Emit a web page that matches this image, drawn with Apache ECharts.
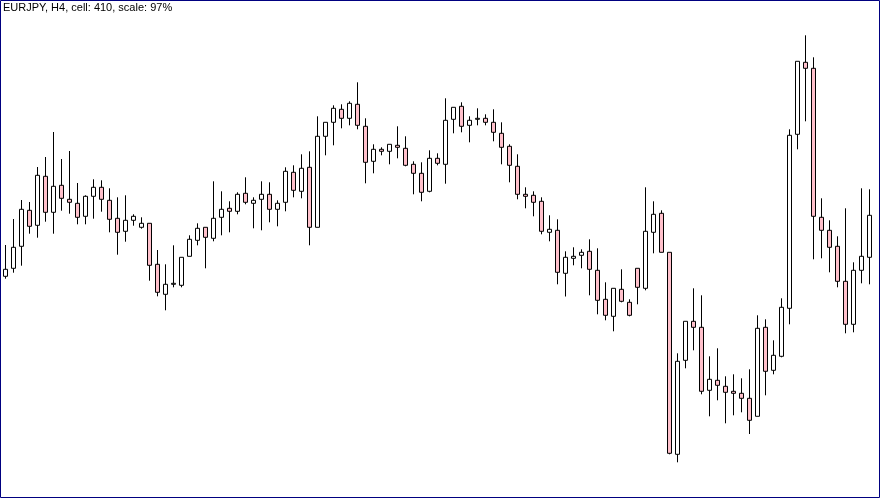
<!DOCTYPE html>
<html>
<head>
<meta charset="utf-8">
<script src="https://cdn.jsdelivr.net/npm/echarts@6/dist/echarts.min.js"></script>
<style>
html,body{margin:0;padding:0;background:#fff;}
#chart{width:880px;height:498px;}
</style>
</head>
<body>
<div id="chart"></div>
<script>
// Chart title
var chartTitle = 'EURJPY, H4, cell: 410, scale: 97%';

// Price values (chart units), one per H4 bar
var opens = [
221.7,229.7,251.7,287.7,272.7,321.7,285.7,312.7,298.7,294.7,
281.7,301.7,310.7,297.7,279.7,266.7,277.7,270.7,274.7,233.7,
203.7,213.7,212.7,241.7,257.7,270.7,259.7,280.7,289.7,286.7,
304.7,294.7,298.7,303.7,288.7,295.7,325.7,306.7,330.7,270.7,
361.7,375.7,388.7,379.7,393.7,371.7,336.7,348.7,346.7,352.7,
349.7,333.7,324.7,306.7,339.7,333.7,378.7,391.7,372.7,378.7,
379.7,375.7,364.7,351.7,331.7,303.7,302.7,296.7,265.7,267.7,
224.7,239.7,242.7,246.7,227.7,198.7,181.7,208.7,195.7,229.7,
209.7,265.7,284.7,245.7,43.7,137.7,176.7,170.7,107.7,117.7,
111.7,106.7,104.7,99.7,81.7,170.7,127.7,141.7,189.7,363.7,
435.7,429.7,280.7,267.7,251.7,216.7,173.7,227.7,240.7
];
var closes = [
228.7,250.7,288.7,271.7,322.7,285.7,311.7,299.7,295.7,280.7,
301.7,310.7,298.7,278.7,265.7,277.7,281.7,274.7,232.7,205.7,
213.7,214.7,240.7,258.7,269.7,260.7,279.7,288.7,286.7,303.7,
295.7,297.7,303.7,288.7,294.7,326.7,307.7,329.7,270.7,361.7,
375.7,389.7,379.7,394.7,372.7,335.7,348.7,346.7,353.7,350.7,
332.7,324.7,305.7,339.7,334.7,377.7,390.7,371.7,377.7,379.7,
375.7,365.7,350.7,332.7,303.7,301.7,295.7,266.7,268.7,225.7,
240.7,241.7,245.7,228.7,197.7,182.7,209.7,196.7,182.7,210.7,
266.7,283.7,245.7,44.7,136.7,176.7,170.7,106.7,118.7,112.7,
105.7,104.7,99.7,77.7,169.7,126.7,142.7,190.7,362.7,436.7,
429.7,281.7,267.7,250.7,216.7,173.7,227.7,241.7,282.7
];
var lows = [
219.3,225.3,232.3,264.3,260.3,276.3,264.3,287.3,284.3,273.7,
273.7,279.3,286.3,265.7,243.3,256.3,272.3,269.3,217.3,201.7,
187.7,210.7,210.7,241.7,252.7,229.7,256.7,262.7,265.7,283.7,
293.7,269.7,267.7,275.7,271.7,286.7,300.7,299.7,252.7,270.7,
342.7,352.7,369.7,372.7,368.7,314.7,324.7,342.7,333.7,339.7,
331.7,303.7,296.7,305.7,332.7,314.3,364.7,365.7,355.7,372.7,
372.7,356.7,333.7,315.7,298.7,289.7,281.7,263.7,256.7,213.7,
201.5,232.7,229.7,202.7,183.7,177.7,166.7,195.7,181.7,193.7,
207.7,244.7,245.7,43.7,35.7,129.7,147.7,103.7,81.7,97.7,
74.7,82.7,85.7,64.0,81.7,102.7,123.7,140.7,173.7,348.7,
376.7,238.7,239.7,225.7,210.7,164.7,165.7,214.7,213.7
];
var highs = [
253.0,279.0,298.0,296.0,331.0,341.0,366.0,339.0,347.0,315.0,
302.7,318.7,317.7,309.7,300.7,302.7,283.7,280.7,274.7,248.0,
233.7,252.7,240.7,262.7,274.7,270.7,316.7,306.7,296.7,305.7,
320.7,300.7,316.7,315.7,297.7,330.7,332.7,343.7,346.7,381.7,
375.7,392.7,393.7,396.7,415.7,379.7,353.7,350.7,353.7,371.7,
361.7,336.7,335.7,347.7,344.7,399.7,390.7,395.7,381.7,389.7,
383.7,388.7,375.7,353.7,343.7,310.7,306.7,300.7,282.7,278.7,
246.7,250.7,248.7,258.7,249.7,215.7,209.7,228.7,198.7,229.7,
310.7,296.7,287.7,245.7,144.7,176.7,209.7,202.7,141.7,149.7,
121.7,123.7,119.7,128.7,182.7,178.7,157.7,199.7,368.7,436.7,
462.7,440.7,299.7,277.7,261.7,289.7,235.7,309.7,308.7
];

var categories = opens.map(function (_, i) { return String(i + 1); });
var ohlc = opens.map(function (o, i) { return [o, closes[i], lows[i], highs[i]]; });

var chart = echarts.init(document.getElementById('chart'), null, {renderer: 'canvas'});
chart.setOption({
  animation: false,
  backgroundColor: '#ffffff',
  title: {
    text: chartTitle,
    left: 3,
    top: 2,
    padding: 0,
    textStyle: {fontFamily: 'Liberation Sans', fontSize: 11, fontWeight: 'normal', color: '#000000'}
  },
  grid: {left: 1.3, top: 0, width: 872, height: 498, containLabel: false},
  xAxis: {
    type: 'category',
    data: categories,
    boundaryGap: true,
    show: false
  },
  yAxis: {
    type: 'value',
    min: 0,
    max: 498,
    show: false,
    splitLine: {show: false}
  },
  graphic: [{
    type: 'rect',
    z: 100,
    shape: {x: 0.5, y: 0.5, width: 879, height: 497},
    style: {fill: 'none', stroke: '#000080', lineWidth: 1}
  }],
  series: [{
    type: 'candlestick',
    data: ohlc,
    barWidth: 4,
    itemStyle: {
      color: '#ffffff',
      color0: '#ffc0cb',
      borderColor: '#000000',
      borderColor0: '#000000',
      borderWidth: 1
    }
  }]
});
</script>
</body>
</html>
